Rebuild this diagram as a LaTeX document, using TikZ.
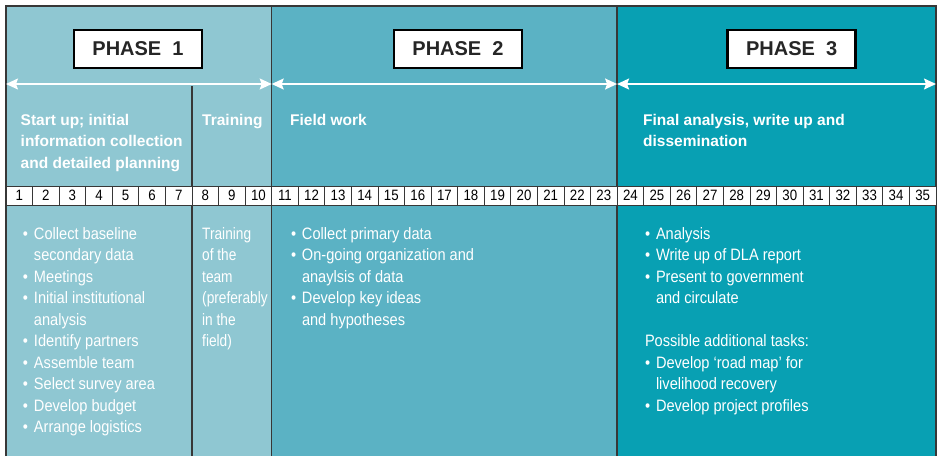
\documentclass[tikz,border=0pt]{standalone}
\usepackage{fontspec}
\setmainfont{Liberation Sans}
\newfontfamily\narrowfont[FakeStretch=0.885]{Liberation Sans}
\newfontfamily\tightfont[FakeStretch=0.83]{Liberation Sans}
\usetikzlibrary{arrows.meta}
\definecolor{phaseA}{RGB}{143,199,210}
\definecolor{phaseB}{RGB}{91,178,196}
\definecolor{phaseC}{RGB}{8,160,179}
\definecolor{rule}{RGB}{55,55,55}
\newcommand{\bul}{\makebox[11pt][l]{\textbullet}}
\newcommand{\ind}{\hspace*{11pt}}
\newcommand{\colstack}[1]{\begin{tabular}[t]{@{}l@{}}#1\end{tabular}}

\begin{document}
\begin{tikzpicture}[x=1pt,y=-1pt,>={Stealth[length=12pt,width=11pt,inset=2pt]}]
  \tikzstyle{phasebox}=[draw=black,line width=2.5pt,fill=white,minimum width=128pt,
        minimum height=38pt,inner sep=0pt,text=black!85,font=\fontsize{20}{24}\selectfont\bfseries]
  \tikzstyle{cell}=[draw=rule,line width=0.9pt,fill=white,minimum width=26.57pt,
        minimum height=19pt,inner sep=0pt,font=\narrowfont\fontsize{15}{18}\selectfont]
  \tikzstyle{heading}=[anchor=base west,inner sep=0pt,text=white,
        font=\fontsize{15.5}{21.5}\selectfont\bfseries]
  \tikzstyle{body}=[anchor=base west,inner sep=0pt,text=white,
        font=\narrowfont\fontsize{16.5}{21.5}\selectfont]
  \tikzstyle{span}=[<->,draw=white,line width=1.6pt]
  \tikzstyle{divider}=[draw=rule,line width=1.3pt]
    \useasboundingbox (0,0) rectangle (940,456);
    \fill[phaseA] (6,6) rectangle (271.7,456);
    \fill[phaseB] (271.7,6) rectangle (617.1,456);
    \fill[phaseC] (617.1,6) rectangle (936,456);
    \draw[divider] (6,456) |- (936,6) -- (936,456);
    \draw[divider] (271.7,6) -- (271.7,456);
    \draw[divider] (617.1,6) -- (617.1,456);
    \draw[divider] (192,86) -- (192,456);

    \coordinate (p0) at (6,84);
    \coordinate (p1) at (271.7,84);
    \coordinate (p2) at (617.1,84);
    \coordinate (p3) at (936,84);
    \draw[span] (p0) -- (p1);
    \draw[span] (p1) -- (p2);
    \draw[span] (p2) -- (p3);

    \node[phasebox] (ph1) at (138,49) {PHASE~~1};
    \node[phasebox] (ph2) at (458,49) {PHASE~~2};
    \node[phasebox] (ph3) at (791.7,49) {PHASE~~3};

    \foreach \i in {1,...,35}
      \node[cell] (c\i) at ({6+(\i-0.5)*26.57},195.5) {\i};

    \node[heading] (h1) at (20.5,125) {\colstack{Start up; initial\\information collection\\and detailed planning}};
    \node[heading] (h2) at (202,125) {Training};
    \node[heading] (h3) at (290,125) {Field work};
    \node[heading] (h4) at (643,125) {\colstack{Final analysis, write up and\\dissemination}};

    \node[body] (b1) at (22.8,239) {\colstack{\bul Collect baseline\\\ind secondary data\\\bul Meetings\\
        \bul Initial institutional\\\ind analysis\\\bul Identify partners\\\bul Assemble team\\
        \bul Select survey area\\\bul Develop budget\\\bul Arrange logistics}};
    \node[body,font=\tightfont\fontsize{16.5}{21.5}\selectfont] (b2) at (202,239)
        {\colstack{Training\\of the\\team\\(preferably\\in the\\field)}};
    \node[body] (b3) at (290.8,239) {\colstack{\bul Collect primary data\\\bul On-going organization and\\
        \ind anaylsis of data\\\bul Develop key ideas\\\ind and hypotheses}};
    \node[body] (b4) at (644.8,239) {\colstack{\bul Analysis\\\bul Write up of DLA report\\\bul Present to government\\
        \ind and circulate\\[21.5pt]Possible additional tasks:\\\bul Develop ‘road map’ for\\
        \ind livelihood recovery\\\bul Develop project profiles}};
\end{tikzpicture}
\end{document}
